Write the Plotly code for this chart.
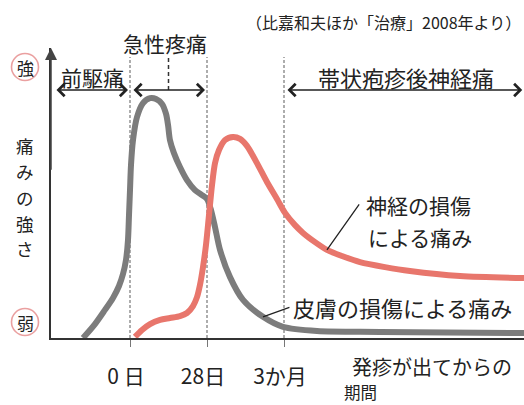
import plotly.graph_objects as go

# ---------------- data ----------------
# x: position on a stylised time axis (0 = 0日, 1 = 28日, 2 = 3か月)
# y: relative pain intensity (0 = 弱, 100 = 強)
SKIN_X = [-0.610, -0.455, -0.325, -0.221, -0.143, -0.091, -0.052, -0.026, -0.013, 0.0,
          0.013, 0.039, 0.091, 0.169, 0.260, 0.338, 0.416, 0.468, 0.494, 0.519,
          0.571, 0.649, 0.740, 0.844, 0.935, 1.0, 1.052, 1.104, 1.169, 1.299,
          1.468, 1.727, 1.987, 2.429, 3.247, 5.117]
SKIN_Y = [0.0, 5.0, 10.1, 14.4, 18.7, 23.0, 28.1, 35.3, 44.2, 53.2,
          62.2, 71.2, 79.5, 84.5, 86.3, 86.0, 84.2, 80.6, 76.6, 71.2,
          66.5, 61.5, 56.8, 53.2, 51.4, 50.0, 46.0, 39.9, 31.7, 21.9,
          13.7, 7.6, 4.0, 2.5, 2.2, 1.8]

NERVE_X = [0.065, 0.156, 0.260, 0.390, 0.519, 0.649, 0.740, 0.818, 0.870, 0.909,
           0.948, 0.987, 1.026, 1.065, 1.104, 1.156, 1.234, 1.338, 1.429, 1.519,
           1.649, 1.779, 1.909, 2.013, 2.143, 2.247, 2.403, 2.558, 2.753, 2.987,
           3.312, 3.636, 4.286, 5.117]
NERVE_Y = [0.4, 2.9, 5.0, 6.5, 7.2, 7.9, 9.0, 11.5, 14.7, 19.1,
           25.5, 33.5, 44.2, 55.0, 62.9, 67.6, 71.2, 72.3, 71.6, 69.1,
           62.9, 56.1, 50.0, 45.0, 40.6, 37.8, 34.5, 31.7, 29.5, 27.3,
           25.5, 24.1, 22.3, 21.6]

TICK_POS = [0, 1, 2]
TICK_TEXT = ["0 日", "28日", "3か月"]

PHASE_NAMES = ["前駆痛", "急性疼痛", "帯状疱疹後神経痛"]
PHASE_START = [-1.0, 0, 2]
PHASE_END = [0, 1, 5.12]
ACUTE_MID = 0.5

SKIN_LABEL = "皮膚の損傷による痛み"
NERVE_LABEL = ["神経の損傷", "による痛み"]
SKIN_CALLOUT_IDX = 31
NERVE_CALLOUT_IDX = 27

Y_LABEL = "痛みの強さ"
X_LABEL = ["発疹が出てからの", "期間"]
SOURCE = "（比嘉和夫ほか「治療」2008年より）"

# ---------------- layout geometry ----------------
W, H = 524, 405
L, R, T, B = 51, 0, 48, 67
PW, PH = W - L - R, H - T - B
X_RANGE = [(L - 130) / 77, (W - 130) / 77]
Y_RANGE = [0, PH / 2.78]
PHASE_Y = 89.2
DASH_TOP = 101.1


def fx(px):
    return (px - L) / PW


def fy(py):
    return (H - B - py) / PH


FONT = "Noto Sans CJK JP"
TXT = "#222222"
GRAY = "#7c7c7c"
RED = "#e8766c"

fig = go.Figure()

# dotted period boundaries
for p in TICK_POS:
    fig.add_trace(go.Scatter(x=[p, p], y=[0, DASH_TOP], mode="lines",
                             line=dict(color="#777777", width=1.2, dash="3px,2px"),
                             hoverinfo="skip", showlegend=False))
fig.add_trace(go.Scatter(x=[ACUTE_MID, ACUTE_MID], y=[PHASE_Y, DASH_TOP], mode="lines",
                         line=dict(color="#333333", width=1.5, dash="4px,3px"),
                         hoverinfo="skip", showlegend=False))

fig.add_trace(go.Scatter(x=SKIN_X, y=SKIN_Y, mode="lines", name=SKIN_LABEL,
                         line=dict(color=GRAY, width=6, shape="spline", smoothing=0.8),
                         showlegend=False))
fig.add_trace(go.Scatter(x=NERVE_X, y=NERVE_Y, mode="lines", name="".join(NERVE_LABEL),
                         line=dict(color=RED, width=6, shape="spline", smoothing=0.8),
                         showlegend=False))

ann = []


def label(px, py, text, size, anchor="left"):
    ann.append(dict(x=fx(px), y=fy(py), xref="paper", yref="paper", text=text,
                    xanchor=anchor, yanchor="middle", showarrow=False, borderpad=0,
                    font=dict(size=size)))


# phase arrows
for s, e in zip(PHASE_START, PHASE_END):
    ann.append(dict(x=e, y=PHASE_Y, ax=s, ay=PHASE_Y, xref="x", yref="y", axref="x", ayref="y",
                    text="", showarrow=True, arrowhead=4, arrowside="end+start",
                    arrowwidth=1.6, arrowsize=1.5, arrowcolor="#222222",
                    standoff=2, startstandoff=2))

# phase labels
label(60, 77, PHASE_NAMES[0], 21)
label(165, 43, PHASE_NAMES[1], 21, "center")
label(317, 77, PHASE_NAMES[2], 22)

# source
label(522, 22, SOURCE, 16, "right")

# callouts
ann.append(dict(x=NERVE_X[NERVE_CALLOUT_IDX], y=NERVE_Y[NERVE_CALLOUT_IDX],
                ax=2.99, ay=48.6, xref="x", yref="y", axref="x", ayref="y",
                text="", showarrow=True, arrowhead=0, arrowwidth=1.3, arrowcolor="#222222"))
ann.append(dict(x=SKIN_X[SKIN_CALLOUT_IDX], y=SKIN_Y[SKIN_CALLOUT_IDX],
                ax=2.09, ay=11.2, xref="x", yref="y", axref="x", ayref="y",
                text="", showarrow=True, arrowhead=0, arrowwidth=1.3, arrowcolor="#222222"))
label(365, 205, NERVE_LABEL[0], 21)
label(367, 237, NERVE_LABEL[1], 21)
label(292, 307, SKIN_LABEL, 22)

# y-axis arrow head
ann.append(dict(x=X_RANGE[0], y=Y_RANGE[1] - 0.01, ax=X_RANGE[0], ay=60,
                xref="x", yref="y", axref="x", ayref="y", text="", showarrow=True,
                arrowhead=2, arrowwidth=1.5, arrowsize=1.6, arrowcolor="#444444"))

# y labels
label(25, 67, "強", 17, "center")
label(25, 322, "弱", 17, "center")
for i, ch in enumerate(Y_LABEL):
    label(25, 145 + 26 * i, ch, 17.5, "center")

# x title
label(351, 366, X_LABEL[0], 20)
label(343, 392, X_LABEL[1], 16.5)

shapes = []
for py in (67, 322):
    shapes.append(dict(type="circle", xref="paper", yref="paper",
                       xsizemode="pixel", ysizemode="pixel",
                       xanchor=fx(25), yanchor=fy(py), x0=-13.5, x1=13.5, y0=-13.5, y1=13.5,
                       line=dict(color="#eaa0a0", width=1.6), layer="below"))

fig.update_layout(
    width=W, height=H,
    margin=dict(l=L, r=R, t=T, b=B),
    paper_bgcolor="white", plot_bgcolor="white",
    font=dict(family=FONT, color=TXT, size=21),
    annotations=ann, shapes=shapes, showlegend=False,
)
fig.update_xaxes(range=X_RANGE, showgrid=False, zeroline=False,
                 showline=True, linecolor="#333333", linewidth=1.5,
                 tickmode="array", tickvals=TICK_POS, ticktext=TICK_TEXT,
                 ticks="outside", ticklen=7, tickwidth=1, tickcolor="#777777",
                 tickfont=dict(size=21, color=TXT), ticklabelstandoff=12,
                 ticklabelshift=-4, fixedrange=True)
fig.update_yaxes(range=Y_RANGE, showgrid=False, zeroline=False,
                 showline=True, linecolor="#333333", linewidth=1.5,
                 showticklabels=False, ticks="", fixedrange=True)

fig.write_html("out.html", config={"displayModeBar": False},
               post_script="document.body.style.margin='0';document.body.style.padding='0';")
